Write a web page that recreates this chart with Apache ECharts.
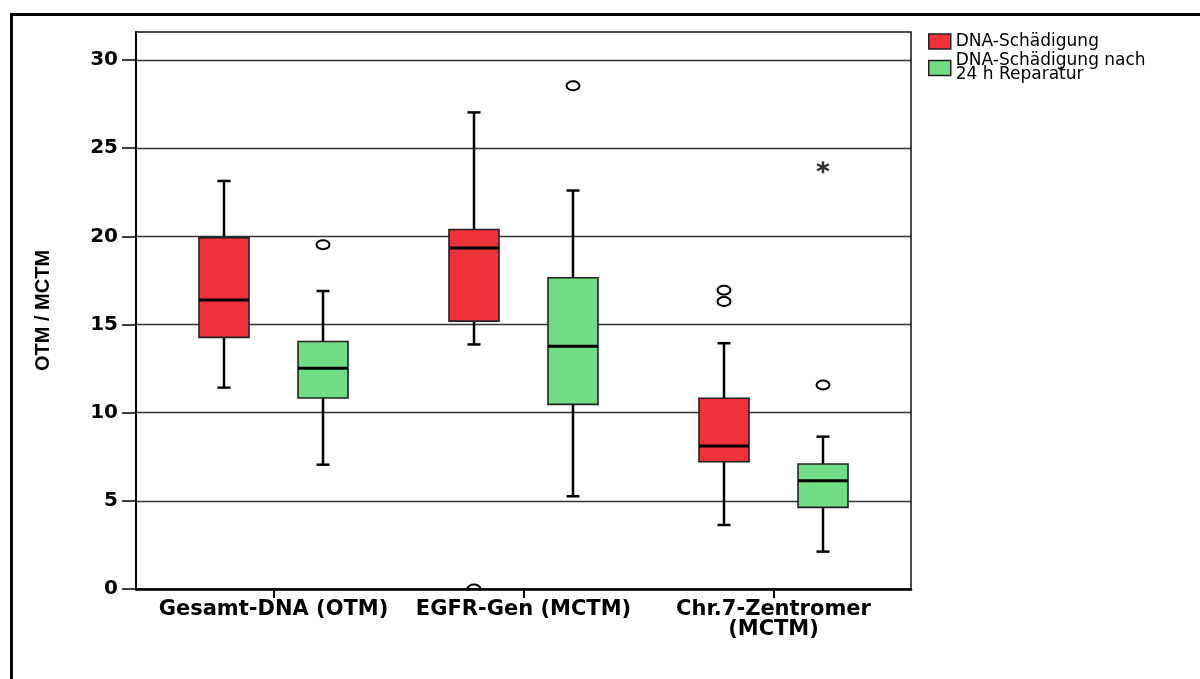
<!DOCTYPE html>
<html>
<head>
<meta charset="utf-8">
<script src="https://cdn.jsdelivr.net/npm/echarts@6/dist/echarts.min.js"></script>
<style>
html,body{margin:0;padding:0;background:#fff;}
#chart{width:1200px;height:679px;}
</style>
</head>
<body>
<div id="chart"></div>
<script>
const categories = ['Gesamt-DNA (OTM)', 'EGFR-Gen (MCTM)', 'Chr.7-Zentromer\n(MCTM)'];
const seriesNames = ['DNA-Schädigung', 'DNA-Schädigung nach\n24 h Reparatur'];
const yTicks = [0, 5, 10, 15, 20, 25, 30];
// [min whisker, Q1, median, Q3, max whisker]
const damageBoxes = [
  [11.42, 14.27, 16.39, 19.93, 23.14],
  [13.87, 15.19, 19.34, 20.39, 27.03],
  [3.63, 7.22, 8.11, 10.82, 13.94]
];
const repairBoxes = [
  [7.05, 10.83, 12.52, 14.04, 16.9],
  [5.26, 10.47, 13.77, 17.65, 22.6],
  [2.12, 4.63, 6.14, 7.09, 8.64]
];
const damageOutliers = [[], [0], [16.3, 16.95]];
const repairOutliers = [[19.53], [28.54], [11.57]];
const repairExtremes = [[], [], [23.92]];

const colors = ['#F0323A', '#70DD84'];
const yMax = 31.59;

function boxData(boxes) {
  return boxes.map((b, i) => [i].concat(b));
}
function pointData(list) {
  const out = [];
  list.forEach((vals, i) => vals.forEach(v => out.push([i, v])));
  return out;
}
function makeRender(offsetFrac, color) {
  return function (params, api) {
    const idx = api.value(0);
    const lo = api.coord([idx, api.value(1)]);
    const q1 = api.coord([idx, api.value(2)]);
    const med = api.coord([idx, api.value(3)]);
    const q3 = api.coord([idx, api.value(4)]);
    const hi = api.coord([idx, api.value(5)]);
    const band = api.size([1, 0])[0];
    const cx = lo[0] + band * offsetFrac;
    const bw = band * 0.2;
    const cap = band * 0.052;
    const lineStyle = {stroke: '#000', lineWidth: 2.5};
    return {
      type: 'group',
      children: [
        {type: 'line', shape: {x1: cx, y1: hi[1], x2: cx, y2: q3[1]}, style: lineStyle},
        {type: 'line', shape: {x1: cx, y1: q1[1], x2: cx, y2: lo[1]}, style: lineStyle},
        {type: 'line', shape: {x1: cx - cap / 2, y1: hi[1], x2: cx + cap / 2, y2: hi[1]}, style: lineStyle},
        {type: 'line', shape: {x1: cx - cap / 2, y1: lo[1], x2: cx + cap / 2, y2: lo[1]}, style: lineStyle},
        {type: 'rect', shape: {x: cx - bw / 2, y: q3[1], width: bw, height: q1[1] - q3[1]},
          style: {fill: color, stroke: '#222', lineWidth: 1.6}},
        {type: 'line', shape: {x1: cx - bw / 2, y1: med[1], x2: cx + bw / 2, y2: med[1]},
          style: {stroke: '#000', lineWidth: 3}}
      ]
    };
  };
}
function makeOutlierRender(offsetFrac) {
  return function (params, api) {
    const p = api.coord([api.value(0), api.value(1)]);
    const band = api.size([1, 0])[0];
    const cs = params.coordSys;
    return {
      type: 'group',
      clipPath: {type: 'rect', shape: {x: cs.x - 40, y: cs.y, width: cs.width + 80, height: cs.height - 1}},
      children: [{
        type: 'ellipse',
        shape: {cx: p[0] + band * offsetFrac, cy: p[1], rx: 6.5, ry: 4.5},
        style: {fill: 'rgba(255,255,255,0)', stroke: '#000', lineWidth: 2}
      }]
    };
  };
}
const offsets = [-0.198, 0.198];
const asterisk = 'path://M5.9 0 L4.1 0 L4.1 10 L5.9 10 Z M8.88 8.28 L9.78 6.72 L1.12 1.72 L0.22 3.28 Z M0.22 6.72 L1.12 8.28 L9.78 3.28 L8.88 1.72 Z';

const chart = echarts.init(document.getElementById('chart'), null, {renderer: 'canvas'});
const option = {
  backgroundColor: '#fff',
  animation: false,
  graphic: [
    {type: 'line', shape: {x1: 10, y1: 14.5, x2: 1200, y2: 14.5}, style: {stroke: '#000', lineWidth: 3}},
    {type: 'line', shape: {x1: 11.5, y1: 13, x2: 11.5, y2: 679}, style: {stroke: '#000', lineWidth: 3}}
  ],
  legend: {
    orient: 'vertical',
    left: 928,
    top: 33,
    padding: 0,
    itemWidth: 22,
    itemHeight: 15,
    itemGap: 2.5,
    icon: 'rect',
    data: seriesNames,
    itemStyle: {borderColor: '#222', borderWidth: 1.5},
    textStyle: {fontFamily: 'DejaVu Sans', fontSize: 17, color: '#000', lineHeight: 14, padding: [0, 0, 0, 0]}
  },
  grid: [
    {left: 136, top: 32, width: 775, height: 557, show: true, borderColor: '#111', borderWidth: 1.5, backgroundColor: 'transparent'},
    {left: 148.5, top: 32, width: 750, height: 557}
  ],
  xAxis: [
    {gridIndex: 0, type: 'value', min: 0, max: 1, axisLabel: {show: false}, axisTick: {show: false},
      splitLine: {show: false}, axisLine: {show: true, lineStyle: {color: '#000', width: 2.5}}, z: 5},
    {gridIndex: 1, type: 'category', data: categories, boundaryGap: true,
      axisLine: {show: false},
      axisTick: {show: true, alignWithLabel: true, length: 9, lineStyle: {color: '#000', width: 2}},
      axisLabel: {margin: 11, fontFamily: 'DejaVu Sans', fontWeight: 'bold', fontSize: 21, color: '#000', lineHeight: 20, interval: 0},
      splitLine: {show: false}}
  ],
  yAxis: [
    {gridIndex: 0, type: 'value', min: 0, max: yMax, interval: 5,
      name: 'OTM / MCTM', nameLocation: 'middle', nameGap: 83, nameRotate: 90,
      nameTextStyle: {fontFamily: 'Liberation Sans', fontWeight: 'bold', fontSize: 20, color: '#000'},
      axisLine: {show: true, lineStyle: {color: '#000', width: 2}},
      axisTick: {show: true, length: 14, lineStyle: {color: '#000', width: 1.5}, customValues: yTicks},
      axisLabel: {margin: 18, fontFamily: 'DejaVu Sans', fontWeight: 'bold', fontSize: 20, color: '#000', customValues: yTicks},
      splitLine: {show: true, lineStyle: {color: '#333', width: 1.4}}},
    {gridIndex: 1, type: 'value', min: 0, max: yMax, interval: 5, show: false, splitLine: {show: false}}
  ],
  series: [
    {name: seriesNames[0], type: 'custom', xAxisIndex: 1, yAxisIndex: 1, data: boxData(damageBoxes),
      encode: {x: 0, y: [1, 2, 3, 4, 5]}, renderItem: makeRender(offsets[0], colors[0]),
      itemStyle: {color: colors[0]}, z: 3},
    {name: seriesNames[1], type: 'custom', xAxisIndex: 1, yAxisIndex: 1, data: boxData(repairBoxes),
      encode: {x: 0, y: [1, 2, 3, 4, 5]}, renderItem: makeRender(offsets[1], colors[1]),
      itemStyle: {color: colors[1]}, z: 3},
    {name: 'damageOutliers', type: 'custom', xAxisIndex: 1, yAxisIndex: 1, data: pointData(damageOutliers),
      encode: {x: 0, y: 1}, renderItem: makeOutlierRender(offsets[0]), z: 4},
    {name: 'repairOutliers', type: 'custom', xAxisIndex: 1, yAxisIndex: 1, data: pointData(repairOutliers),
      encode: {x: 0, y: 1}, renderItem: makeOutlierRender(offsets[1]), z: 4},
    {name: 'repairExtremes', type: 'scatter', xAxisIndex: 1, yAxisIndex: 1, data: pointData(repairExtremes),
      symbol: asterisk, symbolSize: [13, 12], symbolOffset: [49.5, 0],
      itemStyle: {color: '#000'}, z: 4}
  ]
};
chart.setOption(option);
</script>
</body>
</html>
